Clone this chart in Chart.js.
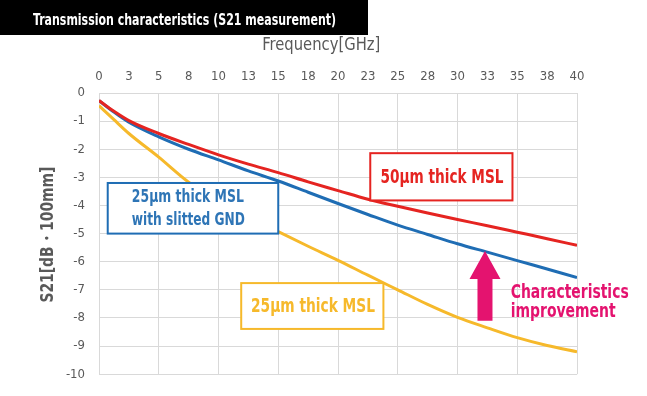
<!DOCTYPE html>
<html>
<head>
<meta charset="utf-8">
<script src="https://cdn.jsdelivr.net/npm/chart.js@4"></script>
<style>
  body { margin: 0; background: #fff; }
</style>
</head>
<body>
<canvas id="grafico" width="647" height="396"></canvas>
<script>
// DADOS DO GRÁFICO
var frequencias = [0, 1.25, 2.5, 5, 7.5, 10, 12.5, 15, 17.5, 20, 22.5, 25, 27.5, 30, 32.5, 35, 37.5, 40];

// 50um thick MSL
var s21Msl50 = [-0.27, -0.65, -0.98, -1.44, -1.83, -2.2, -2.53, -2.83, -3.16, -3.47, -3.78, -4.03, -4.27, -4.5, -4.72, -4.95, -5.18, -5.42];
// 25um thick MSL with slitted GND
var s21Slit25 = [-0.27, -0.68, -1.04, -1.56, -2.0, -2.38, -2.77, -3.13, -3.53, -3.93, -4.32, -4.7, -5.03, -5.36, -5.66, -5.96, -6.26, -6.56];
// 25um thick MSL
var s21Msl25 = [-0.45, -0.95, -1.44, -2.28, -3.17, -3.82, -4.4, -4.93, -5.45, -5.95, -6.48, -7.0, -7.52, -7.98, -8.35, -8.7, -8.98, -9.2];

var xTickLabels = ['0', '3', '5', '8', '10', '13', '15', '18', '20', '23', '25', '28', '30', '33', '35', '38', '40'];
var yTickLabels = ['-10', '-9', '-8', '-7', '-6', '-5', '-4', '-3', '-2', '-1', '0'];

var FONTE = "'DejaVu Sans Condensed', 'DejaVu Sans', sans-serif";
var CINZA = '#595959';
var VERMELHO = '#E52421';
var AZUL = '#1F6DB4';
var AMARELO = '#F6B92B';
var MAGENTA = '#E4136F';

// caixas de texto (posição em unidades do gráfico, largura máx. do texto em px)
var caixas = [
  { x0: 0.73, x1: 15.0, y0: -3.2, y1: -5.0, cor: AZUL, corTexto: '#2E75B6', tam: 17, larg: [112, 113], linhas: ['25µm thick MSL', 'with slitted GND'], texX: 2.75 },
  { x0: 22.7, x1: 34.6, y0: -2.14, y1: -3.82, cor: VERMELHO, corTexto: VERMELHO, tam: 19, larg: [123], linhas: ['50µm thick MSL'], texX: 23.55 },
  { x0: 11.9, x1: 23.8, y0: -6.76, y1: -8.39, cor: AMARELO, corTexto: AMARELO, tam: 19, larg: [124], linhas: ['25µm thick MSL'], texX: 12.72 }
];

// seta de melhoria
var seta = { x: 32.3, de: -8.1, ate: -5.62 };

function montarDatasets() {
  function serie(valores, cor) {
    return {
      data: frequencias.map((f, i) => ({ x: f, y: valores[i] })),
      borderColor: cor,
      borderWidth: 3,
      pointRadius: 0,
      fill: false,
      cubicInterpolationMode: 'monotone'
    };
  }
  return [
    serie(s21Msl25, AMARELO),
    serie(s21Msl50, VERMELHO),
    serie(s21Slit25, AZUL)
  ];
}

// desenha caixas, seta e textos por cima das linhas
var anotacoes = {
  id: 'anotacoes',
  afterDatasetsDraw(chart) {
    var ctx = chart.ctx;
    var sx = chart.scales.x;
    var sy = chart.scales.y;

    ctx.save();
    caixas.forEach(function (c) {
      var l = sx.getPixelForValue(c.x0), r = sx.getPixelForValue(c.x1);
      var t = sy.getPixelForValue(c.y0), b = sy.getPixelForValue(c.y1);
      ctx.fillStyle = '#fff';
      ctx.fillRect(l, t, r - l, b - t);
      ctx.strokeStyle = c.cor;
      ctx.lineWidth = 2;
      ctx.strokeRect(l, t, r - l, b - t);

      ctx.fillStyle = c.corTexto;
      ctx.font = 'bold ' + c.tam + 'px ' + FONTE;
      ctx.textAlign = 'left';
      ctx.textBaseline = 'middle';
      var passo = (b - t) / (c.linhas.length + 0.25);
      var y0 = (t + b) / 2 - passo * (c.linhas.length - 1) / 2 + 1;
      c.linhas.forEach(function (txt, i) {
        ctx.fillText(txt, sx.getPixelForValue(c.texX), y0 + i * passo, c.larg[i]);
      });
    });

    // seta
    var px = sx.getPixelForValue(seta.x);
    var base = sy.getPixelForValue(seta.de);
    var ponta = sy.getPixelForValue(seta.ate);
    ctx.fillStyle = MAGENTA;
    ctx.beginPath();
    ctx.moveTo(px - 7.5, base);
    ctx.lineTo(px - 7.5, ponta + 28);
    ctx.lineTo(px - 15.5, ponta + 28);
    ctx.lineTo(px, ponta);
    ctx.lineTo(px + 15.5, ponta + 28);
    ctx.lineTo(px + 7.5, ponta + 28);
    ctx.lineTo(px + 7.5, base);
    ctx.closePath();
    ctx.fill();

    ctx.font = 'bold 19px ' + FONTE;
    ctx.textAlign = 'left';
    ctx.textBaseline = 'middle';
    ctx.fillText('Characteristics', sx.getPixelForValue(34.45), sy.getPixelForValue(-7.11), 118);
    ctx.fillText('improvement', sx.getPixelForValue(34.45), sy.getPixelForValue(-7.78), 105);
    ctx.restore();
  }
};

// título do gráfico e títulos dos eixos
var titulos = {
  id: 'titulos',
  afterDraw(chart) {
    var ctx = chart.ctx;
    var area = chart.chartArea;
    ctx.save();
    ctx.fillStyle = '#000';
    ctx.fillRect(0, 0, 368, 35);
    ctx.fillStyle = '#fff';
    ctx.font = 'bold 15px ' + FONTE;
    ctx.textAlign = 'left';
    ctx.textBaseline = 'middle';
    ctx.fillText('Transmission characteristics (S21 measurement)', 33, 21, 303);

    ctx.fillStyle = CINZA;
    ctx.font = '17px ' + FONTE;
    ctx.textAlign = 'center';
    ctx.fillText('Frequency[GHz]', chart.scales.x.getPixelForValue(18.6), 46, 118);

    ctx.translate(48, (area.top + area.bottom) / 2 + 1);
    ctx.rotate(-Math.PI / 2);
    ctx.font = 'bold 18px ' + FONTE;
    ctx.fillText('S21[dB・100mm]', 0, 0, 136);
    ctx.restore();
  }
};

function plotarGrafico() {
  Chart.defaults.font.family = FONTE;
  Chart.defaults.color = CINZA;

  const config = {
    type: 'line',
    data: { datasets: montarDatasets() },
    options: {
      responsive: false,
      animation: false,
      layout: { padding: { left: 34, top: 35, right: 70, bottom: 21 } },
      plugins: { legend: { display: false }, tooltip: { enabled: false } },
      scales: {
        x: {
          type: 'linear',
          position: 'top',
          min: 0, max: 40,
          ticks: {
            stepSize: 2.5,
            padding: 9,
            color: CINZA,
            font: { size: 13 },
            maxRotation: 0,
            autoSkip: false,
            callback: (v, i) => xTickLabels[i]
          },
          grid: {
            drawTicks: false,
            color: (c) => (c.tick && c.tick.value % 5 === 0) ? '#D9D9D9' : 'rgba(0,0,0,0)'
          },
          border: { display: false },
          afterFit: (s) => { s.height = 58; }
        },
        y: {
          min: -10, max: 0,
          ticks: {
            stepSize: 1,
            padding: 14,
            color: CINZA,
            font: { size: 13 },
            callback: (v, i) => yTickLabels[i]
          },
          grid: { drawTicks: false, color: '#D9D9D9' },
          border: { display: false },
          afterFit: (s) => { s.width = 65; }
        }
      }
    },
    plugins: [anotacoes, titulos]
  };

  new Chart(document.getElementById('grafico'), config);
}

plotarGrafico();
</script>
</body>
</html>
